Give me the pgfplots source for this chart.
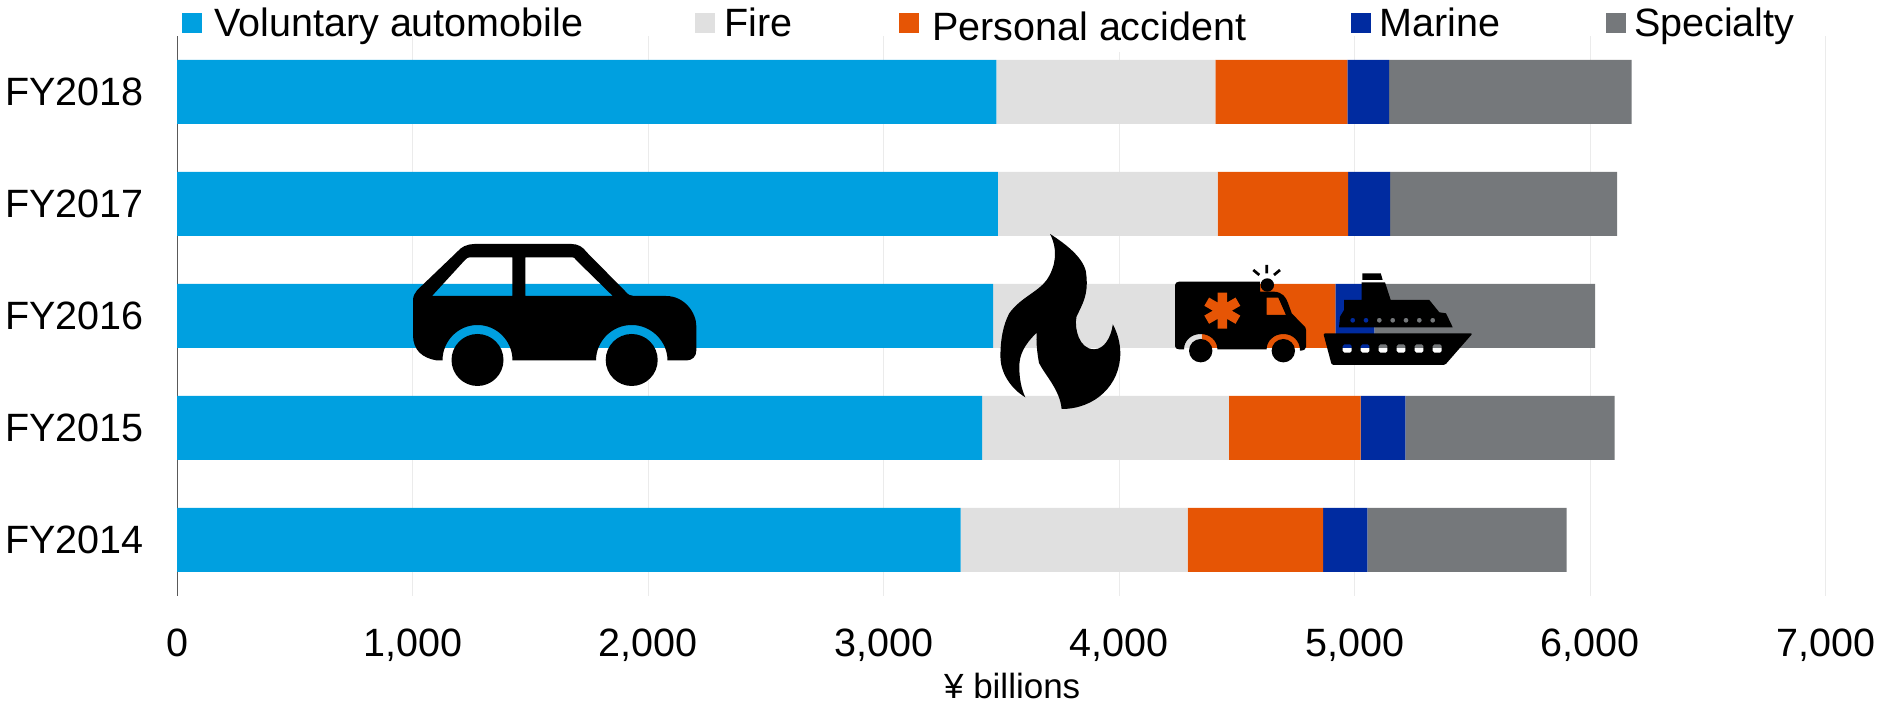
\documentclass[border=0pt]{standalone}
\usepackage{fontspec}
\setmainfont{Liberation Sans}
\usepackage{pgfplots}
\usepackage{pgfplotstable}
\pgfplotsset{compat=1.18}

\definecolor{auto}{HTML}{00A0E0}
\definecolor{fire}{HTML}{E0E0E0}
\definecolor{pa}{HTML}{E65505}
\definecolor{marine}{HTML}{002BA0}
\definecolor{spec}{HTML}{75787B}

% Net premiums by line, FY2014 at y=0 up to FY2018 at y=4
\pgfplotstableread{
y voluntary fire personal marine specialty
0 3326 964 575 188 846
1 3418 1047 560 189 889
2 3464 886 567 166 937
3 3485 932 555 178 963
4 3478 930 560 178 1029
}\premiums

\newcommand{\bigtext}{\fontsize{39.5}{39.5}\selectfont}

\pgfplotsset{
  seg/.style={fill=#1,draw=none,
    legend image code/.code={\path[##1] (0pt,-10pt) rectangle (20pt,10pt);}},
}

\begin{document}
\begin{tikzpicture}[x=1pt,y=1pt]
\path[use as bounding box] (0pt,0pt) rectangle (1881pt,703pt);
\begin{axis}[
  at={(177pt,107pt)}, anchor=south west,
  scale only axis, width=1649pt, height=560pt,
  xbar stacked, bar width=64pt,
  xmin=0, xmax=7000, ymin=-0.5, ymax=4.5,
  axis x line*=bottom, axis y line*=left,
  x axis line style={draw=none},
  y axis line style={draw=black!65,line width=1pt,-},
  xmajorgrids, grid style={draw=black!8,line width=1pt},
  major tick length=0pt,
  xtick={0,1000,...,7000},
  ytick={0,1,2,3,4},
  yticklabels={FY2014,FY2015,FY2016,FY2017,FY2018},
  tick label style={font=\bigtext},
  /pgf/number format/assume math mode=true,
  /pgf/number format/1000 sep={,},
  xticklabel style={inner sep=0pt,yshift=-33pt},
  yticklabel style={inner sep=0pt,xshift=-33pt},
  xlabel={\fontsize{35}{35}\selectfont ¥ billions},
  xlabel style={at={(axis description cs:0.5065,0)},anchor=base,yshift=-103pt,inner sep=0pt},
  legend columns=5,
  legend style={at={(axis description cs:0.00303,1.0)},anchor=north west,yshift=28.5pt,
    draw=none,fill=none,inner sep=0pt,outer sep=0pt,
    /tikz/every even column/.style={column sep=0pt},
    /tikz/every odd column/.style={column sep=8.4pt},
    nodes={inner sep=0pt,font=\bigtext}},
  legend cell align=left,
]
\addplot[seg=auto] table[x=voluntary,y=y] {\premiums};
\addplot[seg=fire] table[x=fire,y=y] {\premiums};
\addplot[seg=pa] table[x=personal,y=y] {\premiums};
\addplot[seg=marine] table[x=marine,y=y] {\premiums};
\addplot[seg=spec] table[x=specialty,y=y] {\premiums};
\legend{
  \makebox[485pt][l]{\hspace{4pt}Voluntary automobile},
  \makebox[175pt][l]{\hspace{1pt}Fire},
  \makebox[424pt][l]{\hspace{5pt}\raisebox{-5pt}{\colorbox{white}{\hspace{-\fboxsep}\rule[-9pt]{0pt}{5pt}Personal accident\hspace{-\fboxsep}}}},
  \makebox[226pt][l]{Marine},
  \makebox[215pt][l]{Specialty}
}
\end{axis}

% Line-of-business pictograms; their openings let the bars show through
\begin{scope}[x=1pt,y=-1pt,shift={(0pt,703pt)}]
  % car
  \fill[black,even odd rule]
    (474.5,244) -- (571.5,244) .. controls (578,244) and (583,247) .. (586.5,252)
    -- (625,291) .. controls (628,295) and (631,296) .. (634,296) -- (666,296)
    .. controls (684,296) and (696.4,312) .. (696.4,327) -- (696.4,350)
    .. controls (696.4,357) and (692,360.5) .. (686,360.5) -- (667.5,360.5)
    .. controls (667.5,341) and (651,325) .. (631.7,325)
    .. controls (612,325) and (596,341) .. (596,360.5) -- (512.5,360.5)
    .. controls (512.5,341) and (497,325) .. (477.5,325)
    .. controls (458,325) and (442.5,341) .. (442.5,360.5) -- (437,360.5)
    .. controls (422,358) and (413,350) .. (413,335) -- (413,300)
    .. controls (413,296) and (415,293) .. (417.3,290) -- (457,252)
    .. controls (461,247) and (467,244) .. (474.5,244) -- cycle
    (432,296) -- (465,260) .. controls (467,258) and (468,257.3) .. (470,257.3)
    -- (512.3,257.3) -- (512.3,296) -- cycle
    (525.3,257.3) -- (572,257.3) .. controls (574,257.3) and (575,258) .. (576,260)
    -- (612.8,296) -- (525.3,296) -- cycle;
  \fill[black] (477.5,360) circle[radius=26pt];
  \fill[black] (631.7,360) circle[radius=26pt];
  % flame
  \fill[black]
    (1050.1,234) .. controls (1072,248) and (1086.5,262) .. (1086.5,276.7)
    .. controls (1088,295) and (1083,303) .. (1076.5,316.7)
    .. controls (1074,328) and (1079,349.3) .. (1094,349.3)
    .. controls (1104,349.3) and (1111,338) .. (1112.8,324.3)
    .. controls (1118,334) and (1120.3,344) .. (1120.3,353.3)
    .. controls (1120.3,385) and (1095,409) .. (1061.6,409)
    .. controls (1060,390) and (1045,375) .. (1039,363)
    .. controls (1037,352) and (1036,342) .. (1036.7,332.7)
    .. controls (1024,345) and (1019.3,355) .. (1019.3,366.7)
    .. controls (1019.3,378) and (1021,388) .. (1025.3,397.3)
    .. controls (1010,388) and (1000.4,372) .. (1000.4,356.7)
    .. controls (1000.4,340) and (1003,325) .. (1009.3,313.3)
    .. controls (1020,298) and (1038,292) .. (1046.7,280)
    .. controls (1056,266) and (1058,250) .. (1050.1,234) -- cycle;
  % ambulance
  \fill[black,even odd rule]
    (1179,281.7) -- (1260,281.7) -- (1260,291.7) -- (1274,291.7)
    .. controls (1282,292) and (1286,297) .. (1288,303) -- (1291.7,313.3)
    -- (1303,325) .. controls (1305,326) and (1306,328) .. (1306,330)
    -- (1306,347) .. controls (1306,349) and (1304,350.7) .. (1300,350.7)
    -- (1300,350.7) .. controls (1300,341) and (1293,334) .. (1283.3,334)
    .. controls (1274,334) and (1266.6,341) .. (1266.6,349.3)
    -- (1217.4,349.3) .. controls (1217.4,341) and (1210,334) .. (1200.7,334)
    .. controls (1191,334) and (1184,341) .. (1184,349.3) -- (1179,349.3)
    .. controls (1176.5,349.3) and (1175,348) .. (1175,346) -- (1175,285)
    .. controls (1175,283) and (1177,281.7) .. (1179,281.7) -- cycle
    (1266.7,297.7) -- (1278.3,297.7) -- (1286,315) -- (1266.7,315) -- cycle;
  \fill[black] (1267.3,285) circle[radius=6.7pt];
  \fill[black] (1200.7,350.7) circle[radius=11.7pt];
  \fill[black] (1283.3,350.7) circle[radius=11.7pt];
  \draw[black,line width=2.7pt] (1253.3,270) -- (1259.3,275)
    (1266.7,265) -- (1266.7,273.3) (1274,275) -- (1280,270);
  \draw[pa,line width=9.5pt]
    (1222.3,292.7) -- (1222.3,328.7)
    (1206.7,301.7) -- (1237.9,319.7)
    (1206.7,319.7) -- (1237.9,301.7);
  % ship
  \fill[black,even odd rule,rounded corners=1.5pt]
    (1323.3,333.3) -- (1472.7,333.3) -- (1445,365) -- (1331.7,365) -- cycle
    (1342.7,344.3) rectangle (1351.7,352.7)
    (1360.7,344.3) rectangle (1369.3,352.7)
    (1378.7,344.3) rectangle (1387.3,352.7)
    (1396.7,344.3) rectangle (1405.3,352.7)
    (1414.7,344.3) rectangle (1423.3,352.7)
    (1432.7,344.3) rectangle (1441.7,352.7);
  \fill[black,even odd rule]
    (1339,327.3) -- (1340,316.7) -- (1344,310) -- (1344,300) -- (1361.7,300)
    -- (1361.7,282.3) -- (1385,282.3) -- (1390.7,300) -- (1429.3,300)
    -- (1439.3,312.3) -- (1446,313.3) -- (1452.7,327.3) -- cycle
    (1352.7,320.3) circle[radius=2.5pt]
    (1366,320.3) circle[radius=2.5pt]
    (1379.3,320.3) circle[radius=2.5pt]
    (1392.7,320.3) circle[radius=2.5pt]
    (1406,320.3) circle[radius=2.5pt]
    (1419.3,320.3) circle[radius=2.5pt]
    (1432.7,320.3) circle[radius=2.5pt];
  \fill[black] (1362.3,273.3) -- (1380.7,273.3) -- (1382.7,280) -- (1362.3,280) -- cycle;
\end{scope}
\end{tikzpicture}
\end{document}
